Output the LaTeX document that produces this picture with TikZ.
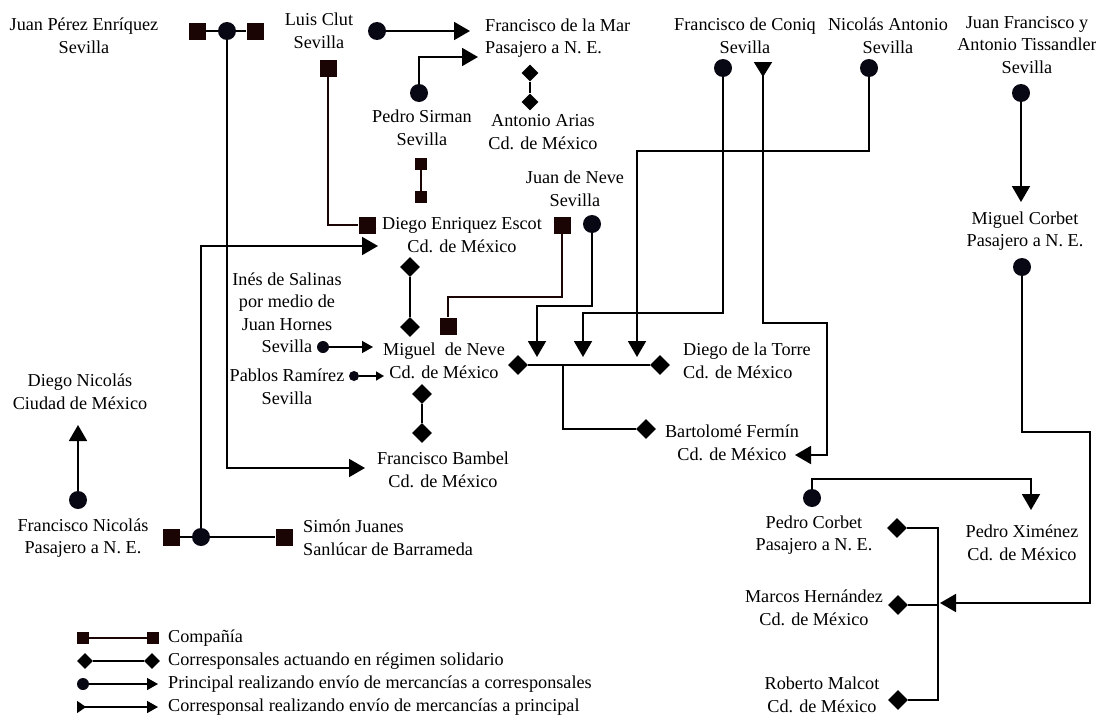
\documentclass[tikz,border=0pt]{standalone}
\usepackage{fontspec}
\setmainfont{Liberation Serif}
\usetikzlibrary{arrows.meta,shapes.geometric}
\definecolor{sqcol}{RGB}{26,4,4}
\definecolor{dotcol}{RGB}{8,8,20}
\begin{document}
\begin{tikzpicture}[x=1pt,y=-1pt,
  lbl/.style={align=center,inner sep=0pt,font=\fontsize{18.2}{22.5}\selectfont},
  lbll/.style={lbl,align=left,anchor=west},
  dot/.style={circle,fill=dotcol,inner sep=0pt,minimum size=18pt},
  sdot/.style={circle,fill=dotcol,inner sep=0pt,minimum size=12pt},
  xsdot/.style={circle,fill=dotcol,inner sep=0pt,minimum size=10pt},
  sq/.style={rectangle,fill=sqcol,inner sep=0pt,minimum size=17pt},
  ssq/.style={rectangle,fill=sqcol,inner sep=0pt,minimum size=12pt},
  dia/.style={diamond,fill=black,inner sep=0pt,minimum size=20pt},
  sdia/.style={diamond,fill=black,inner sep=0pt,minimum size=17pt},
  conn/.style={line width=1.9pt,black},
  bconn/.style={line width=1.6pt,sqcol},
  tconn/.style={line width=1.5pt,black},
  tip/.style={-{Triangle[length=16pt,width=18pt]}},
  stip/.style={-{Triangle[length=11pt,width=12pt]}},
  xstip/.style={-{Triangle[length=8pt,width=9pt]}},
  rtip/.style={{Triangle[reversed,length=15pt,width=18pt]}-{Triangle[length=16pt,width=18pt]}},
  lrtip/.style={{Triangle[reversed,length=9pt,width=12pt]}-{Triangle[length=11pt,width=12pt]}}
]
\useasboundingbox (0,0) rectangle (1096,723);

% ---------- labels ----------
\node[lbl] (tJPE) at (84,36) {Juan Pérez Enríquez\\Sevilla};
\node[lbl] (tClut) at (319,31) {Luis Clut\\Sevilla};
\node[lbll] (tMar) at (485,38) {Francisco de la Mar\\Pasajero a N. E.};
\node[lbl] (tSirman) at (422,128) {Pedro Sirman\\Sevilla};
\node[lbl] (tArias) at (543,132) {Antonio Arias\\Cd. de México};
\node[lbl] (tConiq) at (745,36) {Francisco de Coniq\\Sevilla};
\node[lbl] (tNAnt) at (888,36) {Nicolás Antonio\\Sevilla};
\node[lbl] (tTiss) at (1027,45) {Juan Francisco y\\Antonio Tissandler\\Sevilla};
\node[lbl] (tJNeve) at (575,189) {Juan de Neve\\Sevilla};
\node[lbl] (tEscot) at (462,235) {Diego Enriquez Escot\\Cd. de México};
\node[lbl] (tMCorbet) at (1025,231) {Miguel Corbet\\Pasajero a N. E.};
\node[lbl] (tSalinas) at (287,313) {Inés de Salinas\\por medio de\\Juan Hornes\\Sevilla};
\node[lbl] (tMNeve) at (444,361) {Miguel~ de Neve\\Cd. de México};
\node[lbl] (tRamirez) at (287,387) {Pablos Ramírez\\Sevilla};
\node[lbll] (tTorre) at (683,361) {Diego de la Torre\\Cd. de México};
\node[lbl] (tFermin) at (732,443) {Bartolomé Fermín\\Cd. de México};
\node[lbl] (tDNic) at (80,392) {Diego Nicolás\\Ciudad de México};
\node[lbl] (tBambel) at (443,470) {Francisco Bambel\\Cd. de México};
\node[lbl] (tFNic) at (83,538) {Francisco Nicolás\\Pasajero a N. E.};
\node[lbll] (tJuanes) at (303,538) {Simón Juanes\\Sanlúcar de Barrameda};
\node[lbl] (tPCorbet) at (814,535) {Pedro Corbet\\Pasajero a N. E.};
\node[lbl] (tXimenez) at (1022,543) {Pedro Ximénez\\Cd. de México};
\node[lbl] (tMarcos) at (814,608) {Marcos Hernández\\Cd. de México};
\node[lbl] (tMalcot) at (822,695) {Roberto Malcot\\Cd. de México};

% ---------- arrow targets ----------
\coordinate (bambelIn) at (365,468);
\coordinate (marIn) at (470,31);
\coordinate (marIn2) at (478,57);
\coordinate (grpIn1) at (537,357);
\coordinate (grpIn2) at (583,357);
\coordinate (grpIn3) at (637,357);
\coordinate (coniqTri) at (763,62);
\coordinate (fermIn) at (795,455);
\coordinate (mnIn1) at (373,347);
\coordinate (mnIn2) at (384,376);
\coordinate (dnIn) at (78,425);
\coordinate (escIn) at (378,246);
\coordinate (mcIn) at (1021,202);
\coordinate (mhIn) at (940,603);
\coordinate (pxIn) at (1031,510);
\coordinate (branch) at (563,365);

% ---------- Juan Pérez Enríquez company ----------
\node[sq] (sqA) at (197,31) {};
\node[sq] (sqB) at (255,31) {};
\draw[conn] (sqA) -- (sqB);
\node[dot] (cA) at (227,31) {};
\draw[conn,tip] (cA) |- (bambelIn);

% ---------- Luis Clut ----------
\node[dot] (cB) at (377,31) {};
\draw[conn,tip] (cB) -- (marIn);
\node[sq] (sqC) at (328,68) {};
\node[sq] (sqD) at (367,225) {};
\draw[bconn] (sqC) |- (sqD);

% ---------- Pedro Sirman ----------
\node[dot] (cC) at (419,93) {};
\draw[conn,tip] (cC) |- (marIn2);
\node[ssq] (sqE) at (421,164) {};
\node[ssq] (sqF) at (421,197) {};
\draw[bconn] (sqE) -- (sqF);

% ---------- Antonio Arias ----------
\node[sdia] (dA) at (530,73) {};
\node[sdia] (dB) at (530,102) {};
\draw[conn] (dA) -- (dB);

% ---------- Diego Enriquez Escot / Miguel de Neve ----------
\node[dia] (dC) at (410,267) {};
\node[dia] (dD) at (410,327) {};
\draw[conn] (dC) -- (dD);

% ---------- Juan de Neve ----------
\node[sq] (sqG) at (562,225) {};
\node[sq] (sqH) at (448,326) {};
\draw[bconn] (sqG) -- (562,297) -| (sqH);
\node[dot] (cD) at (592,224) {};
\draw[conn,tip] (cD) -- (592,306) -| (grpIn1);

% ---------- Francisco de Coniq, Nicolás Antonio ----------
\node[dot] (cE) at (723,68) {};
\draw[conn,tip] (cE) -- (723,313) -| (grpIn2);
\node[dot] (cF) at (869,68) {};
\draw[conn,tip] (cF) -- (869,151) -| (grpIn3);
\draw[conn,rtip] (coniqTri) -- (763,323) -- (827,323) |- (fermIn);

% ---------- Miguel de Neve group ----------
\node[dia] (dE) at (518,365) {};
\node[dia] (dF) at (660,365) {};
\draw[conn] (dE) -- (dF);
\node[dia] (dG) at (646,429) {};
\draw[conn] (branch) |- (dG);

% ---------- Inés de Salinas, Pablos Ramírez ----------
\node[sdot] (cG) at (323,347) {};
\draw[tconn,stip] (cG) -- (mnIn1);
\node[xsdot] (cH) at (354,376) {};
\draw[tconn,xstip] (cH) -- (mnIn2);

% ---------- Miguel de Neve / Francisco Bambel ----------
\node[dia] (dH) at (422,394) {};
\node[dia] (dI) at (422,433) {};
\draw[conn] (dH) -- (dI);

% ---------- Diego / Francisco Nicolás ----------
\node[dot] (cI) at (78,500) {};
\draw[conn,tip] (cI) -- (dnIn);
\node[sq] (sqI) at (171,537) {};
\node[sq] (sqJ) at (284,537) {};
\draw[conn] (sqI) -- (sqJ);
\node[dot] (cJ) at (201,537) {};
\draw[conn,tip] (cJ) |- (escIn);

% ---------- Tissandler, Miguel Corbet ----------
\node[dot] (cK) at (1021,93) {};
\draw[conn,tip] (cK) -- (mcIn);
\node[dot] (cL) at (1022,267) {};
\draw[conn,tip] (cL) -- (1022,432) -- (1090,432) |- (mhIn);

% ---------- Pedro Corbet ----------
\node[dot] (cM) at (812,498) {};
\draw[conn,tip] (cM) |- (pxIn |- 0,479) -- (pxIn);
\node[dia] (dJ) at (897,528) {};
\node[dia] (dK) at (898,605) {};
\node[dia] (dL) at (898,700) {};
\draw[tconn] (dJ) -| (938,700) -- (dL);
\draw[tconn] (dK) -- (938,605);

% ---------- legend ----------
\node[ssq] (lgSqA) at (83,638) {};
\node[ssq] (lgSqB) at (153,638) {};
\draw[bconn] (lgSqA) -- (lgSqB);
\node[lbl,anchor=west] (lgT1) at (168,638) {Compañía};
\node[diamond,fill=black,inner sep=0pt,minimum size=16pt] (lgDA) at (85,661) {};
\node[diamond,fill=black,inner sep=0pt,minimum size=16pt] (lgDB) at (152,661) {};
\draw[tconn] (lgDA) -- (lgDB);
\node[lbl,anchor=west] (lgT2) at (168,661) {Corresponsales actuando en régimen solidario};
\node[sdot] (lgC) at (83,684) {};
\coordinate (lgCin) at (158,684);
\draw[tconn,stip] (lgC) -- (lgCin);
\node[lbl,anchor=west] (lgT3) at (168,684) {Principal realizando envío de mercancías a corresponsales};
\coordinate (lgTa) at (77,707);
\coordinate (lgTb) at (158,707);
\draw[tconn,lrtip] (lgTa) -- (lgTb);
\node[lbl,anchor=west] (lgT4) at (168,707) {Corresponsal realizando envío de mercancías a principal};
\end{tikzpicture}
\end{document}
